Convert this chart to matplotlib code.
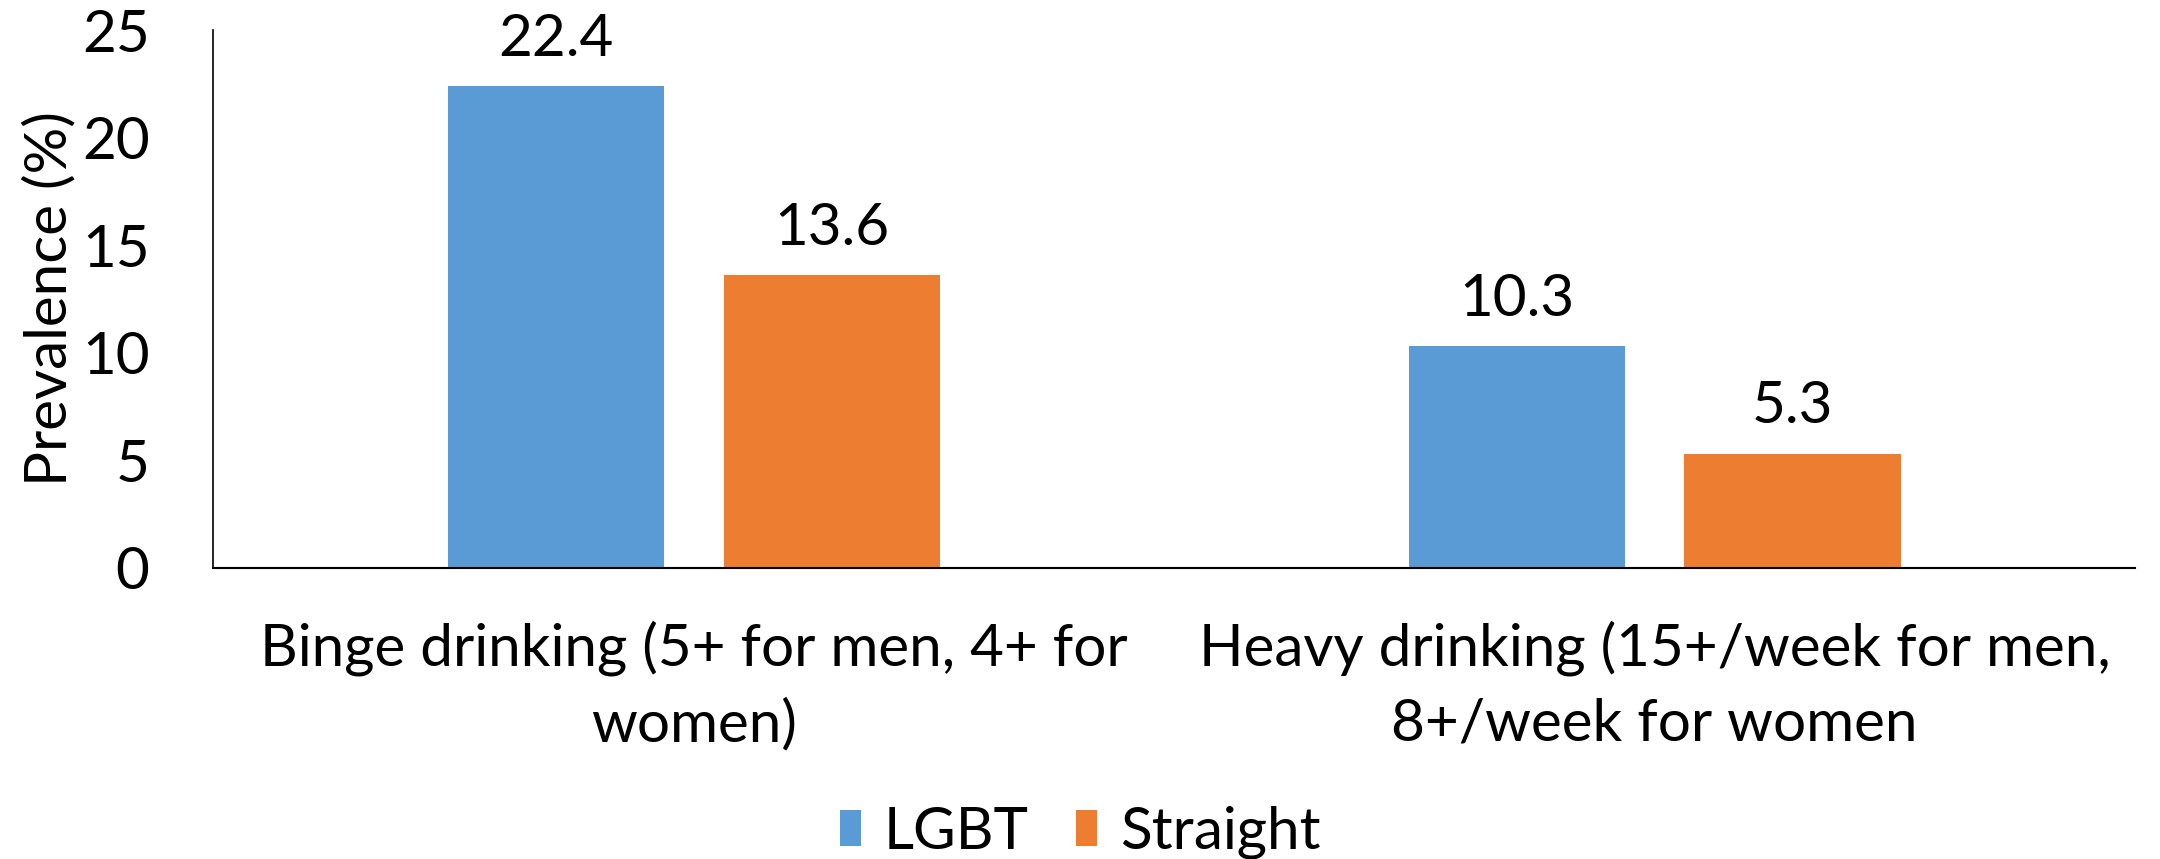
import matplotlib
matplotlib.use("Agg")
import matplotlib.pyplot as plt
import numpy as np

categories = ["Binge drinking (5+ for men, 4+ for\nwomen)",
              "Heavy drinking (15+/week for men,\n8+/week for women"]
series_names = ["LGBT", "Straight"]
lgbt = [22.4, 10.3]
straight = [13.6, 5.3]
yticks = [0, 5, 10, 15, 20, 25]

plt.rcParams['font.family'] = ['Lato', 'DejaVu Sans']
FS = 42

fig = plt.figure(figsize=(21.6, 8.59), dpi=100)
ax = fig.add_axes([0.0988, 0.3393, 0.8896, 0.6257])

x = np.arange(len(categories))
w = 0.225
off = 0.1435
colors = ["#5B9BD5", "#ED7D31"]
b1 = ax.bar(x - off, lgbt, w, color=colors[0], label=series_names[0])
b2 = ax.bar(x + off, straight, w, color=colors[1], label=series_names[1])
for bars, vals in ((b1, lgbt), (b2, straight)):
    for r, v in zip(bars, vals):
        ax.text(r.get_x() + r.get_width() / 2, v + 0.95, f"{v}", ha='center', va='bottom', fontsize=FS)

ax.set_xlim(-0.5, 1.5)
ax.set_ylim(0, 25)
ax.set_yticks(yticks)
ax.set_xticks(x)
ax.set_xticklabels(categories, fontsize=FS, linespacing=1.5)
ax.tick_params(axis='x', length=0, pad=38)
ax.tick_params(axis='y', length=0, pad=46, labelsize=FS)
for s in ['top', 'right']:
    ax.spines[s].set_visible(False)
ax.spines['left'].set_color('#000000')
ax.spines['left'].set_linewidth(1.2)
ax.spines['bottom'].set_color('#000000')
ax.spines['bottom'].set_linewidth(1.5)
ax.set_ylabel("Prevalence (%)", fontsize=FS, labelpad=4)

fig.legend(handles=[b1, b2], labels=series_names, loc='center', bbox_to_anchor=(0.5, 0.031),
           ncol=2, frameon=False, fontsize=FS, handlelength=0.36, handleheight=0.55,
           handletextpad=0.4, columnspacing=0.8)

fig.savefig("out.png", dpi=100)
